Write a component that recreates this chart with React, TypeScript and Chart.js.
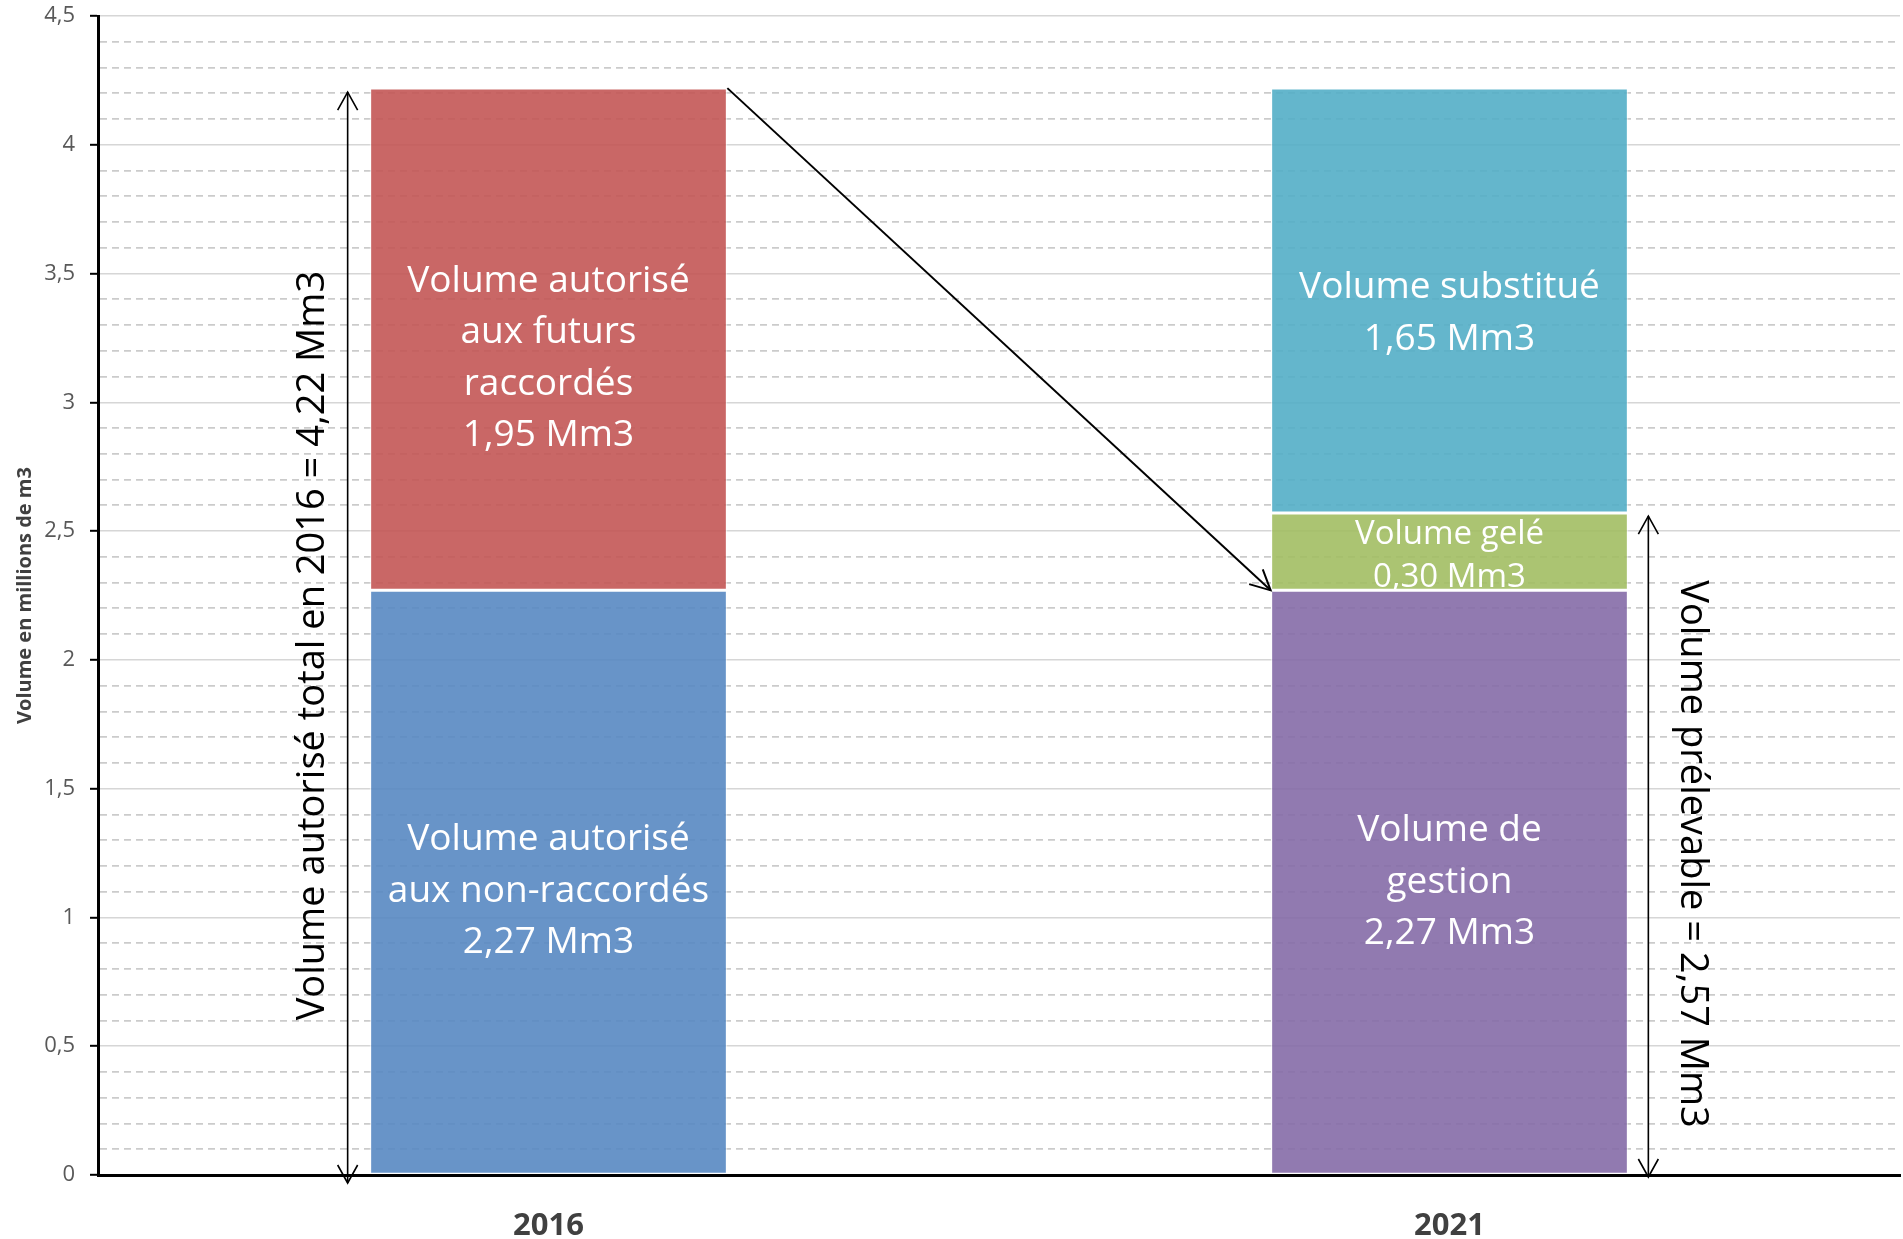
import React, { useEffect, useRef } from 'react';
import { Chart, registerables } from 'chart.js';

Chart.register(...registerables);

// ---------- DATA ----------
const categories = ['2016', '2021'];
const baseValues = [2.27, 2.27];
const frozenValues: (number | null)[] = [null, 0.3];
const topValues = [1.95, 1.65];

const baseLabels = [
  ['Volume autorisé', 'aux non-raccordés', '2,27 Mm3'],
  ['Volume de', 'gestion', '2,27 Mm3'],
];
const frozenLabels: (string[] | null)[] = [null, ['Volume gelé', '0,30 Mm3']];
const topLabels = [
  ['Volume autorisé', 'aux futurs', 'raccordés', '1,95 Mm3'],
  ['Volume substitué', '1,65 Mm3'],
];

const totalAuthorized2016 = 4.22;
const extractable2021 = 2.57;
const leftNote = 'Volume autorisé total en 2016 = 4,22 Mm3';
const rightNote = 'Volume prélevable = 2,57 Mm3';
const yTitle = 'Volume en millions de m3';
const yMin = 0;
const yMax = 4.5;
const yMinorStep = 0.1;
const yMajorStep = 0.5;

// ---------- STYLE ----------
const FONT = '"Open Sans", "DejaVu Sans", sans-serif';
const baseColors = ['rgba(88,136,194,0.9)', 'rgba(133,108,167,0.9)'];
const frozenColors = ['rgba(162,190,99,0.9)', 'rgba(162,190,99,0.9)'];
const topColors = ['rgba(195,86,85,0.9)', 'rgba(83,174,199,0.9)'];
const baseLabelOffsets = [9, 0];
const frozenLabelOffsets = [0, 4];
const topLabelOffsets = [19, 13];

const isMajor = (v: number) => Math.abs(v / yMajorStep - Math.round(v / yMajorStep)) < 1e-6;

function drawArrowHead(ctx: CanvasRenderingContext2D, fx: number, fy: number, tx: number, ty: number, len: number, half: number) {
  const ang = Math.atan2(ty - fy, tx - fx);
  const a = Math.atan2(half, len);
  const l = Math.hypot(half, len);
  ctx.beginPath();
  ctx.moveTo(tx - l * Math.cos(ang - a), ty - l * Math.sin(ang - a));
  ctx.lineTo(tx, ty);
  ctx.lineTo(tx - l * Math.cos(ang + a), ty - l * Math.sin(ang + a));
  ctx.stroke();
}

const annotationPlugin = {
  id: 'annotations',
  afterDatasetsDraw(chart: any) {
    const ctx: CanvasRenderingContext2D = chart.ctx;
    const y = chart.scales.y;
    const mBase = chart.getDatasetMeta(0).data;
    const mFrozen = chart.getDatasetMeta(1).data;
    const mTop = chart.getDatasetMeta(2).data;

    const block = (el: any, lines: string[] | null, size: number, lh: number, dy: number) => {
      if (!el || !lines) return;
      const p = el.getProps(['x', 'y', 'base'], true);
      if (p.y == null || isNaN(p.y)) return;
      const cy = (p.y + p.base) / 2 + dy;
      ctx.save();
      ctx.font = `${size}px ${FONT}`;
      ctx.fillStyle = '#ffffff';
      ctx.textAlign = 'center';
      ctx.textBaseline = 'middle';
      lines.forEach((t, i) => ctx.fillText(t, p.x, cy + (i - (lines.length - 1) / 2) * lh));
      ctx.restore();
    };

    categories.forEach((_, i) => {
      block(mBase[i], baseLabels[i], 37, 51.5, baseLabelOffsets[i]);
      block(mFrozen[i], frozenLabels[i], 33, 43, frozenLabelOffsets[i]);
      block(mTop[i], topLabels[i], 37, 51.5, topLabelOffsets[i]);
    });

    const b0 = mBase[0].getProps(['x', 'width'], true);
    const b1 = mBase[1].getProps(['x', 'width'], true);
    const y0 = y.getPixelForValue(0);
    const yTot = y.getPixelForValue(totalAuthorized2016);
    const yExt = y.getPixelForValue(extractable2021);

    ctx.save();
    ctx.strokeStyle = '#000';
    ctx.fillStyle = '#000';
    ctx.lineCap = 'butt';

    // left double arrow
    const lx = b0.x - b0.width / 2 - 22;
    const lTop = yTot + 4;
    const lBot = y0 + 8;
    ctx.lineWidth = 1.6;
    ctx.beginPath();
    ctx.moveTo(lx, lTop);
    ctx.lineTo(lx, lBot);
    ctx.stroke();
    drawArrowHead(ctx, lx, lBot, lx, lTop, 18, 10);
    drawArrowHead(ctx, lx, lTop, lx, lBot, 18, 10);

    // right double arrow
    const rx = b1.x + b1.width / 2 + 20;
    const rTop = yExt + 3;
    const rBot = y0 + 2;
    ctx.beginPath();
    ctx.moveTo(rx, rTop);
    ctx.lineTo(rx, rBot);
    ctx.stroke();
    drawArrowHead(ctx, rx, rBot, rx, rTop, 18, 10);
    drawArrowHead(ctx, rx, rTop, rx, rBot, 18, 10);

    // diagonal arrow
    const t0 = mTop[0].getProps(['x', 'y', 'width'], true);
    const sx = t0.x + t0.width / 2;
    const sy = t0.y;
    const ex = b1.x - b1.width / 2;
    const ey = mBase[1].getProps(['y'], true).y;
    ctx.lineWidth = 2;
    ctx.beginPath();
    ctx.moveTo(sx, sy);
    ctx.lineTo(ex, ey);
    ctx.stroke();
    drawArrowHead(ctx, sx, sy, ex, ey, 20, 10);

    // rotated notes
    ctx.font = `38px ${FONT}`;
    ctx.textAlign = 'center';
    ctx.textBaseline = 'middle';
    ctx.save();
    ctx.translate(b0.x - b0.width / 2 - 56, (yTot + y0) / 2 + 14);
    ctx.rotate(-Math.PI / 2);
    ctx.fillText(leftNote, 0, 0);
    ctx.restore();

    ctx.save();
    ctx.translate(b1.x + b1.width / 2 + 63, (yExt + y0) / 2 + 10);
    ctx.rotate(Math.PI / 2);
    ctx.fillText(rightNote, 0, 0);
    ctx.restore();

    ctx.restore();
  },
};

export default function App() {
  const ref = useRef<HTMLCanvasElement | null>(null);

  useEffect(() => {
    let chart: Chart | null = null;
    let cancelled = false;
    const make = () => {
      if (cancelled || !ref.current) return;
      chart = new Chart(ref.current, {
        type: 'bar',
        data: {
          labels: categories,
          datasets: [
            { label: 'base', data: baseValues, backgroundColor: baseColors },
            { label: 'gelé', data: frozenValues as any, backgroundColor: frozenColors },
            { label: 'haut', data: topValues, backgroundColor: topColors },
          ],
        },
        options: {
          responsive: false,
          animation: false,
          devicePixelRatio: 1,
          layout: { padding: { top: 16, right: 3, bottom: 0, left: 0 } },
          datasets: {
            bar: {
              categoryPercentage: 1,
              barPercentage: 0.397,
              borderWidth: 1.5,
              borderColor: 'rgba(255,255,255,0.55)',
              borderSkipped: false,
            },
          },
          plugins: {
            legend: { display: false },
            tooltip: { enabled: false },
          },
          scales: {
            x: {
              stacked: true,
              grid: { display: false },
              border: { display: true, color: '#000', width: 3, z: 1 },
              ticks: {
                color: '#404040',
                font: { family: FONT, size: 31, weight: 'bold' },
                padding: 25,
              },
              afterFit: (s: any) => {
                s.height = 64;
                s.paddingLeft = 0;
                s.paddingRight = 0;
              },
            },
            y: {
              stacked: true,
              min: yMin,
              max: yMax,
              border: {
                display: true,
                color: '#000',
                width: 3,
                dash: (c: any) => (c.tick && !isMajor(c.tick.value) ? [7, 5] : []),
              },
              grid: {
                color: (c: any) => (c.tick && isMajor(c.tick.value) ? '#d6d6d6' : '#cbcbcb'),
                lineWidth: (c: any) => (c.tick && isMajor(c.tick.value) ? 1.6 : 1.8),
                tickColor: (c: any) => (c.tick && isMajor(c.tick.value) ? '#000' : 'rgba(0,0,0,0)'),
                tickLength: 8,
                tickWidth: 2,
              },
              ticks: {
                stepSize: yMinorStep,
                autoSkip: false,
                padding: 15,
                color: '#595959',
                font: { family: FONT, size: 22 },
                callback: (v: any) => (isMajor(Number(v)) ? String(Number(v)).replace('.', ',') : ''),
              },
              title: {
                display: true,
                text: yTitle,
                color: '#404040',
                font: { family: FONT, size: 20, weight: 'bold' },
                padding: { top: 13, bottom: 0 },
              },
              afterFit: (s: any) => {
                s.width = 98;
                s.paddingTop = 0;
                s.paddingBottom = 0;
              },
            },
          },
        },
        plugins: [annotationPlugin],
      } as any);
    };
    const fontsReady = (document as any).fonts
      ? Promise.all([
          (document as any).fonts.load(`34px "Open Sans"`),
          (document as any).fonts.load(`bold 29px "Open Sans"`),
        ]).catch(() => null)
      : Promise.resolve(null);
    fontsReady.then(make);
    return () => {
      cancelled = true;
      if (chart) chart.destroy();
    };
  }, []);

  return (
    <div style={{ position: 'fixed', left: 0, top: 0, width: 1903, height: 1239, background: '#fff' }}>
      <canvas ref={ref} width={1903} height={1239} style={{ display: 'block' }} />
    </div>
  );
}
